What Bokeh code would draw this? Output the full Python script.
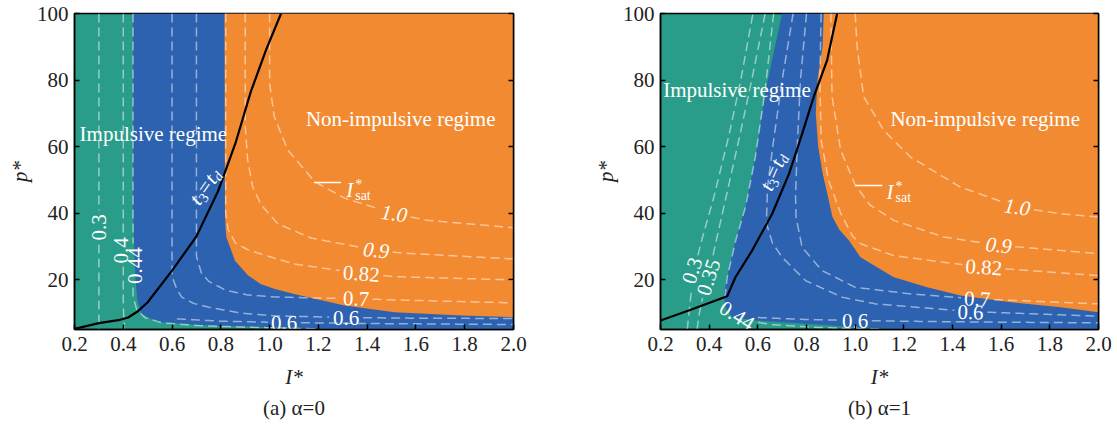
import numpy as np
from bokeh.plotting import figure
from bokeh.layouts import row
from bokeh.models import FixedTicker, PrintfTickFormatter, LinearAxis, Range1d, Title
from bokeh.core.properties import value
from bokeh.embed import file_html
from bokeh.resources import INLINE

# ---------------- axes ----------------
I_MIN, I_MAX = 0.2, 2.0
P_MIN, P_MAX = 5.0, 100.0
x_ticks = [0.2, 0.4, 0.6, 0.8, 1.0, 1.2, 1.4, 1.6, 1.8, 2.0]
y_ticks = [20, 40, 60, 80, 100]

TEAL, BLUE, ORANGE = "#299D89", "#2C62AF", "#F28A31"
FONT = "Liberation Serif"
FS = 21

# ---------------- panel (a): alpha = 0 ----------------
a_teal_I = [0.44, 0.44, 0.45, 0.458, 0.474, 0.52, 0.556, 0.748, 1.022, 1.2]
a_teal_p = [100, 40, 20, 13.7, 9.7, 8.0, 7.2, 6.2, 5.7, 5.0]
a_orange_I = [0.815, 0.817, 0.82, 0.823, 0.858, 0.912, 0.965, 1.022, 1.101, 1.307, 1.512, 1.786, 2.0]
a_orange_p = [100, 40, 35, 32.7, 25.7, 21.2, 18.6, 17.2, 15.7, 12.2, 10.2, 9.2, 8.7]
a_t3td_I = [0.2, 0.3, 0.38, 0.42, 0.46, 0.5, 0.6, 0.7, 0.79, 0.86, 0.923, 0.985, 1.047]
a_t3td_p = [5.2, 6.9, 7.8, 8.6, 10.5, 13.2, 22.7, 33.0, 46.8, 61.0, 76.5, 89.0, 100]

a_c030 = ([0.30, 0.30], [100, 5])
a_c040 = ([0.40, 0.40, 0.405], [100, 12, 5])
a_c044 = ([0.44, 0.44, 0.455, 0.49, 0.56, 0.70, 0.90, 1.20], [100, 15, 11, 8.5, 7.0, 6.2, 5.7, 5.2])
a_c060 = ([0.60, 0.60, 0.62, 0.64, 0.69, 0.75, 0.885, 1.022, 1.314, 1.6, 2.0],
          [100, 21, 17, 14.7, 12.8, 11.7, 9.9, 9.1, 8.6, 8.4, 8.3])
a_c060b = ([0.62, 0.80, 1.059, 1.4, 2.0], [8.2, 7.5, 7.1, 6.8, 6.5])
a_c070 = ([0.70, 0.70, 0.72, 0.75, 0.82, 0.91, 1.02, 1.17, 1.355, 1.51, 2.0],
          [100, 27, 22, 19.5, 16.8, 15.4, 14.8, 14.5, 14.3, 13.9, 13.0])
a_c082 = ([0.82, 0.82, 0.83, 0.86, 0.91, 0.965, 1.1, 1.376, 1.512, 2.0],
          [100, 40, 35, 31, 29, 27.7, 24.7, 21.8, 20.9, 19.9])
a_c090 = ([0.90, 0.90, 0.91, 0.93, 0.965, 1.033, 1.17, 1.437, 1.54, 2.0],
          [100, 66, 56, 48, 42.5, 36.8, 32.5, 28.8, 28.0, 26.2])
a_c100 = ([1.0, 1.0, 1.019, 1.074, 1.184, 1.307, 1.511, 1.65, 2.0],
          [100, 79, 69, 59, 49.5, 44.5, 39.8, 37.8, 35.6])
a_contours = {"c030": a_c030, "c040": a_c040, "c044": a_c044, "c060": a_c060, "c060b": a_c060b,
              "c070": a_c070, "c082": a_c082, "c090": a_c090, "c100": a_c100}
# (text, I, p, angle, italic, contour)
a_labels = [("0.3", 0.30, 35.7, 90, False, "c030"), ("0.4", 0.39, 28.8, 90, False, "c040"),
            ("0.44", 0.45, 24.2, 90, False, "c044"), ("1.0", 1.511, 39.8, -8, True, "c100"),
            ("0.9", 1.437, 28.8, -6, True, "c090"), ("0.82", 1.376, 21.8, -4, False, "c082"),
            ("0.7", 1.355, 14.3, -2, False, "c070"), ("0.6", 1.314, 8.6, 0, False, "c060"),
            ("0.6", 1.059, 7.1, 0, False, "c060b")]
a_isat_I = [1.182, 1.293]
a_isat_p = [49.2, 49.2]

# ---------------- panel (b): alpha = 1 ----------------
b_teal_I = [0.70, 0.632, 0.59, 0.549, 0.508, 0.474, 0.46, 0.468, 0.495, 0.59, 0.796, 1.0, 1.25]
b_teal_p = [100, 76.9, 56.8, 41.8, 31.8, 20.7, 15.7, 11.5, 8.7, 7.7, 6.7, 5.7, 5.0]
b_orange_I = [0.871, 0.866, 0.845, 0.838, 0.848, 0.866, 0.885, 0.906, 0.935, 0.974, 1.022, 1.09,
              1.159, 1.296, 1.433, 1.639, 1.844, 2.0]
b_orange_p = [100, 90, 80, 70, 60, 52, 46, 39, 35, 31.8, 26.7, 23.7, 20.7, 17.7, 15.2, 13.2, 11.7, 10.2]
b_t3td_I = [0.2, 0.316, 0.474, 0.508, 0.577, 0.659, 0.728, 0.782, 0.83, 0.885, 0.926]
b_t3td_p = [7.7, 10.7, 15.0, 20.7, 28.8, 39.8, 51.8, 63.8, 75, 86, 100]

b_c030 = ([0.31, 0.32, 0.335, 0.37, 0.42, 0.48, 0.53, 0.58], [5, 12, 22, 32, 45, 63, 80, 100])
b_c035 = ([0.35, 0.36, 0.38, 0.40, 0.43, 0.47, 0.525, 0.575, 0.63], [5, 10, 17, 22, 32, 45, 63, 80, 100])
b_c044 = ([0.665, 0.63, 0.59, 0.55, 0.51, 0.475, 0.465, 0.49, 0.54, 0.65, 0.85, 1.1],
          [100, 77, 57, 42, 32, 21, 15, 11, 8, 6.5, 5.6, 5.1])
b_c060 = ([0.745, 0.70, 0.665, 0.64, 0.635, 0.66, 0.70, 0.796, 0.947, 1.084, 1.47, 2.0],
          [100, 80, 62, 48, 37, 31, 26.7, 19.7, 14.7, 12.7, 10.4, 9.0])
b_c060b = ([0.6, 0.8, 1.0, 1.3, 1.6, 2.0], [8.6, 8.0, 7.7, 7.4, 7.2, 7.0])
b_c070 = ([0.80, 0.775, 0.762, 0.755, 0.757, 0.782, 0.864, 1.0, 1.228, 1.5, 2.0],
          [100, 80, 60, 45, 38.8, 29.7, 22.7, 17.7, 15.7, 14.2, 12.7])
b_c082 = ([0.86, 0.855, 0.86, 0.89, 0.94, 0.99, 1.022, 1.159, 1.365, 1.53, 2.0],
          [100, 80, 62, 50, 40, 33, 30.8, 27.2, 25.2, 23.7, 21.2])
b_c090 = ([0.90, 0.905, 0.94, 1.0, 1.06, 1.159, 1.365, 1.59, 2.0],
          [100, 75, 59, 48.5, 42.5, 37.8, 32.8, 30.3, 27.8])
b_c100 = ([1.0, 1.008, 1.035, 1.118, 1.228, 1.433, 1.666, 1.844, 2.0],
          [100, 90, 75, 64.8, 56.8, 47.8, 41.8, 39.8, 38.8])
b_contours = {"c030": b_c030, "c035": b_c035, "c044": b_c044, "c060": b_c060, "c060b": b_c060b,
              "c070": b_c070, "c082": b_c082, "c090": b_c090, "c100": b_c100}
b_labels = [("0.3", 0.330, 22.7, 72, False, "c030"), ("0.35", 0.397, 20.7, 72, False, "c035"),
            ("0.44", 0.515, 9.2, -32, False, "c044"), ("0.6", 1.0, 7.7, 0, False, "c060b"),
            ("0.6", 1.474, 10.2, -2, False, "c060"), ("0.7", 1.502, 14.2, -3, False, "c070"),
            ("0.82", 1.529, 23.7, -4, False, "c082"), ("0.9", 1.59, 30.3, -6, True, "c090"),
            ("1.0", 1.666, 41.8, -8, True, "c100")]
b_isat_I = [1.001, 1.112]
b_isat_p = [48.3, 48.3]

HEIGHT = 425
TOP, BOTTOM = 13, 96


def text_width(s, size=FS):
    w = {".": 0.25}
    return sum(w.get(ch, 0.5) for ch in s) * size


def gapped(I, P, gaps, sx, sy):
    """Split a contour polyline where its labels sit (pixel-space rectangles)."""
    X = (np.asarray(I, float) - I_MIN) * sx
    Y = (np.asarray(P, float) - P_MIN) * sy
    s = np.concatenate([[0.0], np.cumsum(np.hypot(np.diff(X), np.diff(Y)))])
    t = np.append(np.arange(0.0, s[-1], 1.0), s[-1])
    xs, ys = np.interp(t, s, X), np.interp(t, s, Y)
    keep = np.ones(len(t), bool)
    for gx, gy, hw, hh, ang in gaps:
        c, sn = np.cos(np.deg2rad(ang)), np.sin(np.deg2rad(ang))
        du = (xs - gx) * c + (ys - gy) * sn
        dv = -(xs - gx) * sn + (ys - gy) * c
        keep &= ~((np.abs(du) < hw) & (np.abs(dv) < hh))
    out_x, out_y = [], []
    idx = np.flatnonzero(keep)
    if len(idx) == 0:
        return out_x, out_y
    breaks = np.flatnonzero(np.diff(idx) > 1)
    starts = np.concatenate([[0], breaks + 1])
    ends = np.concatenate([breaks + 1, [len(idx)]])
    for a, b in zip(starts, ends):
        seg = idx[a:b]
        if len(seg) > 1:
            out_x.append(xs[seg] / sx + I_MIN)
            out_y.append(ys[seg] / sy + P_MIN)
    return out_x, out_y


def compose(fig, pieces, I0, p0, ang, sx, sy, color="white"):
    th = np.deg2rad(ang)
    for txt, u, v, size, style in pieces:
        dx = u * np.cos(th) - v * np.sin(th)
        dy = u * np.sin(th) + v * np.cos(th)
        fig.text(x=[I0 + dx / sx], y=[p0 + dy / sy], text=[txt], angle=ang, angle_units="deg",
                 text_font=value(FONT), text_font_size=f"{size}px", text_font_style=style,
                 text_color=color, text_align="left", text_baseline="alphabetic")


def panel(width, left, right, teal, orange, tline, contours, labels, isat, t3td, regimes, caption):
    fw = width - left - right
    fh = HEIGHT - TOP - BOTTOM
    sx = fw / (I_MAX - I_MIN)
    sy = fh / (P_MAX - P_MIN)

    p = figure(width=width, height=HEIGHT, x_range=Range1d(I_MIN, I_MAX), y_range=Range1d(P_MIN, P_MAX),
               output_backend="svg", toolbar_location=None,
               min_border_left=left, min_border_right=right, min_border_top=TOP, min_border_bottom=BOTTOM,
               background_fill_color=TEAL, border_fill_color="white")
    p.grid.visible = False
    p.outline_line_color = "black"
    p.outline_line_width = 1.5

    # regimes: teal background, blue to the right of the teal edge, orange on top
    p.patch(teal[0] + [I_MAX, I_MAX], teal[1] + [P_MIN, P_MAX], fill_color=BLUE, line_color=None)
    p.patch(orange[0] + [I_MAX], orange[1] + [P_MAX], fill_color=ORANGE, line_color=None)

    # dashed contours with gaps for their inline labels
    for key, (ci, cp) in contours.items():
        gaps = []
        for txt, li, lp, ang, ital, k in labels:
            if k == key:
                gaps.append(((li - I_MIN) * sx, (lp - P_MIN) * sy, text_width(txt) / 2 + 3, 9, ang))
        xs, ys = gapped(ci, cp, gaps, sx, sy)
        p.multi_line(xs, ys, line_color="white", line_alpha=0.5, line_width=1.5, line_dash="9 5")

    for txt, li, lp, ang, ital, k in labels:
        p.text(x=[li], y=[lp], text=[txt], angle=ang, angle_units="deg",
               text_font=value(FONT), text_font_size=f"{FS}px",
               text_font_style="italic" if ital else "normal",
               text_color="white", text_align="center", text_baseline="middle")

    # t3 = td boundary
    p.line(tline[0], tline[1], line_color="black", line_width=2.2)

    # regime names
    for txt, li, lp in regimes:
        p.text(x=[li], y=[lp], text=[txt], text_font=value(FONT), text_font_size=f"{FS}px",
               text_color="white", text_align="left", text_baseline="middle")

    # saturation marker
    p.line(isat[0], isat[1], line_color="white", line_width=1.5)
    compose(p, [("I", 0, 0, FS, "italic"), ("*", 9, 6, 14, "normal"), ("sat", 9, -5, 14, "normal")],
            isat[2], isat[3], 0, sx, sy)

    # t3 = td annotation
    compose(p, [("t", 0, 0, FS, "italic"), ("3", 6, -5, 14, "normal"), ("=", 13, 0, FS, "normal"),
                ("t", 26, 0, FS, "italic"), ("d", 32, -5, 14, "italic")],
            t3td[0], t3td[1], t3td[2], sx, sy)

    # axes
    p.xaxis.ticker = FixedTicker(ticks=x_ticks)
    p.xaxis.formatter = PrintfTickFormatter(format="%.1f")
    p.yaxis.ticker = FixedTicker(ticks=y_ticks)
    p.xaxis.axis_label = "I*"
    p.yaxis.axis_label = "p*"
    ra = LinearAxis(ticker=FixedTicker(ticks=y_ticks),
                    major_label_overrides={t: "" for t in y_ticks})
    p.add_layout(ra, "right")
    for ax in p.axis:
        ax.major_tick_in = 5
        ax.major_tick_out = 0
        ax.minor_tick_line_color = None
        ax.axis_line_color = "black"
        ax.axis_line_width = 1.5
        ax.major_tick_line_color = "black"
        ax.major_tick_line_width = 1.5
        ax.major_label_text_font = FONT
        ax.major_label_text_font_size = f"{FS}px"
        ax.major_label_text_color = "#222222"
        ax.axis_label_text_font = FONT
        ax.axis_label_text_font_size = f"{FS}px"
        ax.axis_label_text_font_style = "italic"
        ax.axis_label_text_color = "#222222"
    p.xaxis.major_label_standoff = 7
    p.yaxis.major_label_standoff = 6
    p.xaxis.axis_label_standoff = 11
    p.yaxis.axis_label_standoff = 2

    # panel caption under the axis
    p.add_layout(Title(text=caption, align="center", text_font=FONT, text_font_size=f"{FS}px",
                       text_font_style="normal", text_color="#222222", standoff=4), "below")
    return p


pa = panel(558, 74, 45, (a_teal_I, a_teal_p), (a_orange_I, a_orange_p), (a_t3td_I, a_t3td_p),
           a_contours, a_labels, (a_isat_I, a_isat_p, 1.314, 46.8), (0.689, 43.2, 55),
           [("Impulsive regime", 0.221, 63.9), ("Non-impulsive regime", 1.149, 68.4)],
           "(a) α=0")
pb = panel(559, 102, 19, (b_teal_I, b_teal_p), (b_orange_I, b_orange_p), (b_t3td_I, b_t3td_p),
           b_contours, b_labels, (b_isat_I, b_isat_p, 1.129, 46.2), (0.631, 47.1, 66),
           [("Impulsive regime", 0.211, 76.9), ("Non-impulsive regime", 1.145, 68.4)],
           "(b) α=1")

layout = row(pa, pb)
open("out.html", "w").write(file_html(layout, INLINE))
